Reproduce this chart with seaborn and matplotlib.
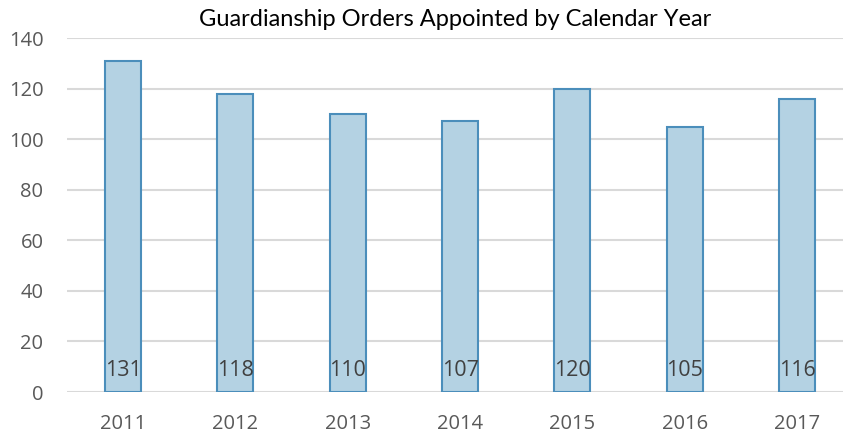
import matplotlib
matplotlib.use("Agg")
import matplotlib.pyplot as plt
import seaborn as sns
import pandas as pd

years = ["2011", "2012", "2013", "2014", "2015", "2016", "2017"]
orders = [131, 118, 110, 107, 120, 105, 116]

sns.set_theme(style="white")
plt.rcParams['font.family'] = ['Open Sans', 'DejaVu Sans']

df = pd.DataFrame({"year": years, "orders": orders})

fig = plt.figure(figsize=(8.43, 4.36), dpi=100)
ax = fig.add_axes([0.0795, 0.1009, 0.9205, 0.8119])

sns.barplot(data=df, x="year", y="orders", ax=ax, width=0.32,
            color="#B4D2E3", edgecolor="#4B8EBB", linewidth=1.5, saturation=1)

ax.set_ylim(0, 140)
ax.set_xlim(-0.5, 6.41)
ax.set_yticks(range(0, 141, 20))
ax.yaxis.grid(True, color="#D9D9D9", linewidth=1.5)
ax.set_axisbelow(True)
for s in ax.spines.values():
    s.set_visible(False)
ax.set_xlabel("")
ax.set_ylabel("")
ax.tick_params(axis="both", colors="#595959", labelsize=14.5, length=0)
ax.tick_params(axis="x", pad=15.5)
ax.tick_params(axis="y", pad=17)

for i, v in enumerate(orders):
    ax.text(i, 8.5, str(v), ha="center", va="center", fontsize=15.5, color="#404040")

fig.text(0.54, 0.955, "Guardianship Orders Appointed by Calendar Year",
         ha="center", va="center", fontsize=17, color="black", family=["Lato", "DejaVu Sans"])

fig.savefig("out.png", dpi=100)
